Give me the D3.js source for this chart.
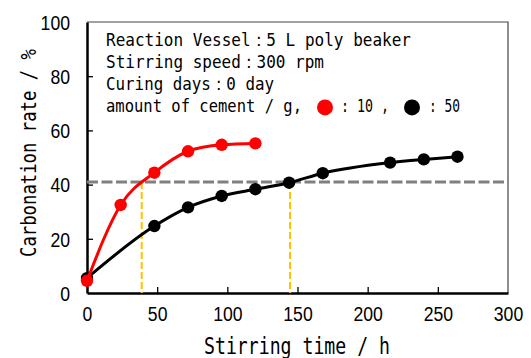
<!DOCTYPE html>
<html>
<head>
<meta charset="utf-8">
<script src="https://cdn.jsdelivr.net/npm/d3@7"></script>
<style>
  body { margin: 0; background: #fff; }
  svg { display: block; }
</style>
</head>
<body>
<div class="chart"></div>
<script>
// data
const HOURS_10G = [0, 24, 48, 72, 96, 120];
const RATE_10G = [4.5, 32.5, 44.4, 52.3, 54.7, 55.2];
const HOURS_50G = [0, 48, 72, 96, 120, 144, 168, 216, 240, 264];
const RATE_50G = [5.5, 24.7, 31.6, 35.8, 38.3, 40.7, 44.2, 48.1, 49.3, 50.3];
const THRESHOLD = [41];
const CROSS_HOURS = [39, 144.7];
const X_TICKS = [0, 50, 100, 150, 200, 250, 300];
const Y_TICKS = [0, 20, 40, 60, 80, 100];
const NOTE_LINES = [
  "Reaction Vessel：5 L poly beaker",
  "Stirring speed：300 rpm",
  "Curing days：0 day"
];

const WIDTH = 531, HEIGHT = 358;
const LEFT = 87, RIGHT = 508, TOP = 22, BOTTOM = 293;
const MONO = "'DejaVu Sans Mono', monospace";
const SANS = "'Liberation Sans', Arial, sans-serif";

const svg = d3.select(".chart").append("svg")
  .attr("width", WIDTH)
  .attr("height", HEIGHT);

const xScale = d3.scaleLinear().domain([0, 300]).range([LEFT, RIGHT]);
const yScale = d3.scaleLinear().domain([0, 100]).range([BOTTOM, TOP]);

// frame: thin top/right
svg.append("path")
  .attr("d", `M${LEFT},${TOP}H${RIGHT}V${BOTTOM}`)
  .attr("fill", "none")
  .attr("stroke", "#444")
  .attr("stroke-width", 1.2);

// axes
const xAxis = svg.append("g")
  .attr("transform", `translate(0,${BOTTOM})`)
  .call(d3.axisBottom(xScale).tickValues(X_TICKS).tickSizeInner(-6).tickSizeOuter(0).tickPadding(14));
const yAxis = svg.append("g")
  .attr("transform", `translate(${LEFT},0)`)
  .call(d3.axisLeft(yScale).tickValues(Y_TICKS).tickSizeInner(-6).tickSizeOuter(0).tickPadding(17));

[xAxis, yAxis].forEach(ax => {
  ax.select(".domain").attr("stroke", "#000").attr("stroke-width", 2.5);
  ax.selectAll(".tick line").attr("stroke", "#000").attr("stroke-width", 1.3);
  ax.selectAll(".tick text")
    .attr("font-family", SANS)
    .attr("font-size", 20)
    .attr("fill", "#000")
    .attr("textLength", d => String(d).length * 9.8)
    .attr("lengthAdjust", "spacingAndGlyphs");
});
xAxis.selectAll(".tick text").attr("dy", "0.71em");
yAxis.selectAll(".tick text").attr("dy", "0.36em");
// tick lines at the frame corners are not needed
xAxis.selectAll(".tick line").filter(d => d === 0 || d === 300).remove();
yAxis.selectAll(".tick line").filter(d => d === 0 || d === 100).remove();

// axis titles
svg.append("text")
  .attr("x", 204)
  .attr("y", 354)
  .attr("font-family", MONO)
  .attr("font-size", 23)
  .attr("textLength", 186)
  .attr("lengthAdjust", "spacingAndGlyphs")
  .text("Stirring time / h");

svg.append("text")
  .attr("transform", "translate(36,257) rotate(-90)")
  .attr("font-family", MONO)
  .attr("font-size", 22)
  .attr("textLength", 208)
  .attr("lengthAdjust", "spacingAndGlyphs")
  .text("Carbonation rate / %");

// reference lines
svg.append("line")
  .attr("x1", xScale(0)).attr("x2", xScale(300))
  .attr("y1", yScale(THRESHOLD[0])).attr("y2", yScale(THRESHOLD[0]))
  .attr("stroke", "#808080")
  .attr("stroke-width", 3)
  .attr("stroke-dasharray", "11,3.5");

svg.selectAll(".cross")
  .data(CROSS_HOURS)
  .join("line")
  .attr("class", "cross")
  .attr("x1", d => xScale(d)).attr("x2", d => xScale(d))
  .attr("y1", yScale(THRESHOLD[0])).attr("y2", yScale(0))
  .attr("stroke", "#FFC000")
  .attr("stroke-width", 2)
  .attr("stroke-dasharray", "7,3");

// series
const line = d3.line()
  .x(d => xScale(d[0]))
  .y(d => yScale(d[1]))
  .curve(d3.curveMonotoneX);

const series = [
  { hours: HOURS_50G, rate: RATE_50G, color: "#000" },
  { hours: HOURS_10G, rate: RATE_10G, color: "#ff0000" }
];

series.forEach(s => {
  const pts = s.hours.map((h, i) => [h, s.rate[i]]);
  svg.append("path")
    .datum(pts)
    .attr("d", line)
    .attr("fill", "none")
    .attr("stroke", s.color)
    .attr("stroke-width", 3);
  svg.append("g")
    .selectAll("circle")
    .data(pts)
    .join("circle")
    .attr("cx", d => xScale(d[0]))
    .attr("cy", d => yScale(d[1]))
    .attr("r", 6.2)
    .attr("fill", s.color);
});

// note text
const notes = svg.append("g")
  .attr("font-family", MONO)
  .attr("font-size", 18.4)
  .attr("fill", "#000");

const NOTE_LENGTHS = [305, 218, 168];
notes.selectAll("text.note")
  .data(NOTE_LINES)
  .join("text")
  .attr("class", "note")
  .attr("x", 106)
  .attr("y", (d, i) => 45.5 + i * 22.3)
  .attr("textLength", (d, i) => NOTE_LENGTHS[i])
  .attr("lengthAdjust", "spacingAndGlyphs")
  .text(d => d);

const y4 = 45.5 + 3 * 22.3;
notes.append("text")
  .attr("x", 106).attr("y", y4)
  .attr("textLength", 196)
  .attr("lengthAdjust", "spacingAndGlyphs")
  .text("amount of cement / g,");
notes.append("circle").attr("cx", 325).attr("cy", y4 - 5).attr("r", 8).attr("fill", "#ff0000");
notes.append("text")
  .attr("x", 341).attr("y", y4)
  .attr("textLength", 48)
  .attr("lengthAdjust", "spacingAndGlyphs")
  .text(": 10 ,");
notes.append("circle").attr("cx", 412).attr("cy", y4 - 5).attr("r", 8).attr("fill", "#000");
notes.append("text")
  .attr("x", 429).attr("y", y4)
  .attr("textLength", 31)
  .attr("lengthAdjust", "spacingAndGlyphs")
  .text(": 50");
</script>
</body>
</html>
